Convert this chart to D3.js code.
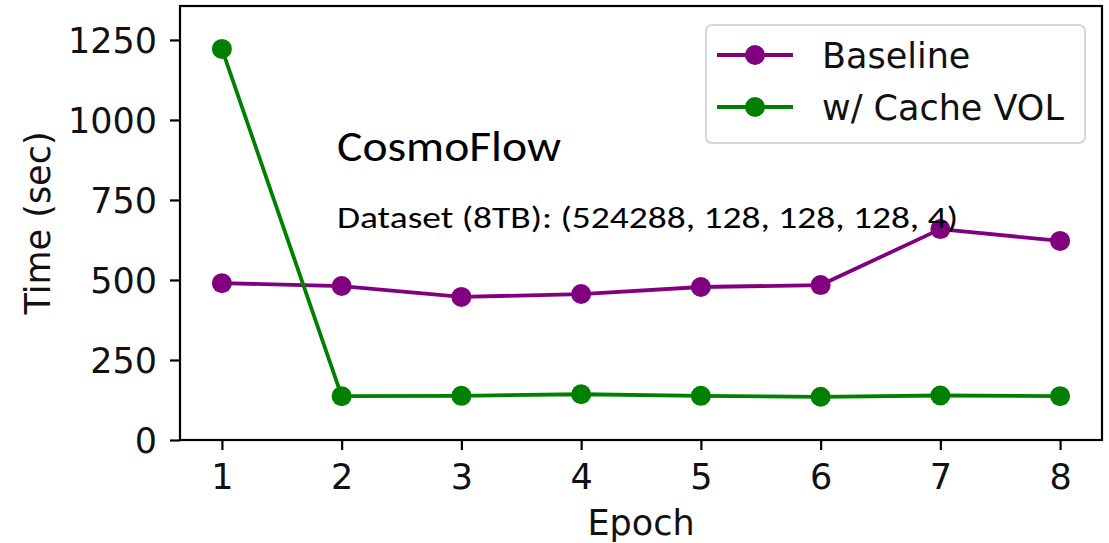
<!DOCTYPE html>
<html><head><meta charset="utf-8">
<script src="https://cdn.jsdelivr.net/npm/d3@7"></script>
<style>body{margin:0;background:#fff}svg{display:block}</style>
</head><body>
<svg id="chart" width="1109" height="543"></svg>
<script>
const epochs = [1, 2, 3, 4, 5, 6, 7, 8];
const baseline = [490, 481, 447, 456, 478, 484, 659, 622];
const cacheVol = [1222, 137, 138, 143, 138, 135, 139, 137];
const yTicks = [0, 250, 500, 750, 1000, 1250];
const seriesNames = ["Baseline", "w/ Cache VOL"];
const seriesColors = ["#800080", "#008000"];
const title = "CosmoFlow";
const subtitle = "Dataset (8TB): (524288, 128, 128, 128, 4)";

const svg = d3.select("#chart");
const L = 180, R = 1102, T = 6, B = 440;
const x = d3.scaleLinear().domain([0.65, 8.35]).range([L, R]);
const y = d3.scaleLinear().domain([0, 1356]).range([B, T]);
const tickFont = "DejaVu Sans, sans-serif";
const FS = 35;

// axes
const xAxis = svg.append("g").attr("transform", `translate(0,${B})`)
  .call(d3.axisBottom(x).tickValues(epochs).tickFormat(d3.format("d")).tickSizeOuter(0).tickSize(10).tickPadding(13));
const yAxis = svg.append("g").attr("transform", `translate(${L},0)`)
  .call(d3.axisLeft(y).tickValues(yTicks).tickFormat(d3.format("d")).tickSizeOuter(0).tickSize(10).tickPadding(13));
[xAxis, yAxis].forEach(g => {
  g.select(".domain").remove();
  g.selectAll(".tick line").attr("stroke", "#000").attr("stroke-width", 2.2);
  g.selectAll(".tick text").attr("font-family", tickFont).attr("font-size", FS).attr("fill", "#111");
});
xAxis.selectAll(".tick text").attr("dy", "0.74em");
yAxis.selectAll(".tick text").attr("dy", "0.36em");

// frame
svg.append("rect").attr("x", L).attr("y", T).attr("width", R - L).attr("height", B - T)
  .attr("fill", "none").attr("stroke", "#000").attr("stroke-width", 2.2);

// axis labels
svg.append("text").attr("x", (L + R) / 2).attr("y", 535).attr("text-anchor", "middle")
  .attr("font-family", tickFont).attr("font-size", FS).attr("fill", "#111").text("Epoch");
svg.append("text").attr("transform", `translate(50,${(T + B) / 2}) rotate(-90)`).attr("text-anchor", "middle")
  .attr("font-family", tickFont).attr("font-size", FS).attr("fill", "#111").text("Time (sec)");

// lines
const data = [baseline, cacheVol];
const line = d3.line().x((d, i) => x(epochs[i])).y(d => y(d));
data.forEach((vals, k) => {
  svg.append("path").datum(vals).attr("d", line).attr("fill", "none")
    .attr("stroke", seriesColors[k]).attr("stroke-width", 3.8);
  svg.selectAll(null).data(vals).enter().append("circle")
    .attr("cx", (d, i) => x(epochs[i])).attr("cy", d => y(d)).attr("r", 10)
    .attr("fill", seriesColors[k]);
});

// annotations
const annoFont = "Carlito, Lato, 'Open Sans', sans-serif";
svg.append("text").attr("x", 337).attr("y", 161).attr("font-family", annoFont).attr("font-size", 44)
  .attr("textLength", 224).attr("lengthAdjust", "spacingAndGlyphs")
  .attr("fill", "#000").text(title);
svg.append("text").attr("x", 337).attr("y", 228).attr("font-family", annoFont).attr("font-size", 31)
  .attr("textLength", 621).attr("lengthAdjust", "spacingAndGlyphs")
  .attr("fill", "#000").text(subtitle);

// legend
const lg = svg.append("g");
lg.append("rect").attr("x", 706).attr("y", 25).attr("width", 379).attr("height", 118).attr("rx", 6)
  .attr("fill", "#fff").attr("fill-opacity", 0.8).attr("stroke", "#d6d6d6").attr("stroke-width", 2);
seriesNames.forEach((name, k) => {
  const cy = 55 + k * 52;
  lg.append("line").attr("x1", 717).attr("x2", 793).attr("y1", cy).attr("y2", cy)
    .attr("stroke", seriesColors[k]).attr("stroke-width", 3.8);
  lg.append("circle").attr("cx", 755).attr("cy", cy).attr("r", 10).attr("fill", seriesColors[k]);
  lg.append("text").attr("x", 822).attr("y", cy).attr("dy", "0.36em").attr("font-family", tickFont)
    .attr("font-size", FS).attr("fill", "#111").text(name);
});
</script>
</body></html>
